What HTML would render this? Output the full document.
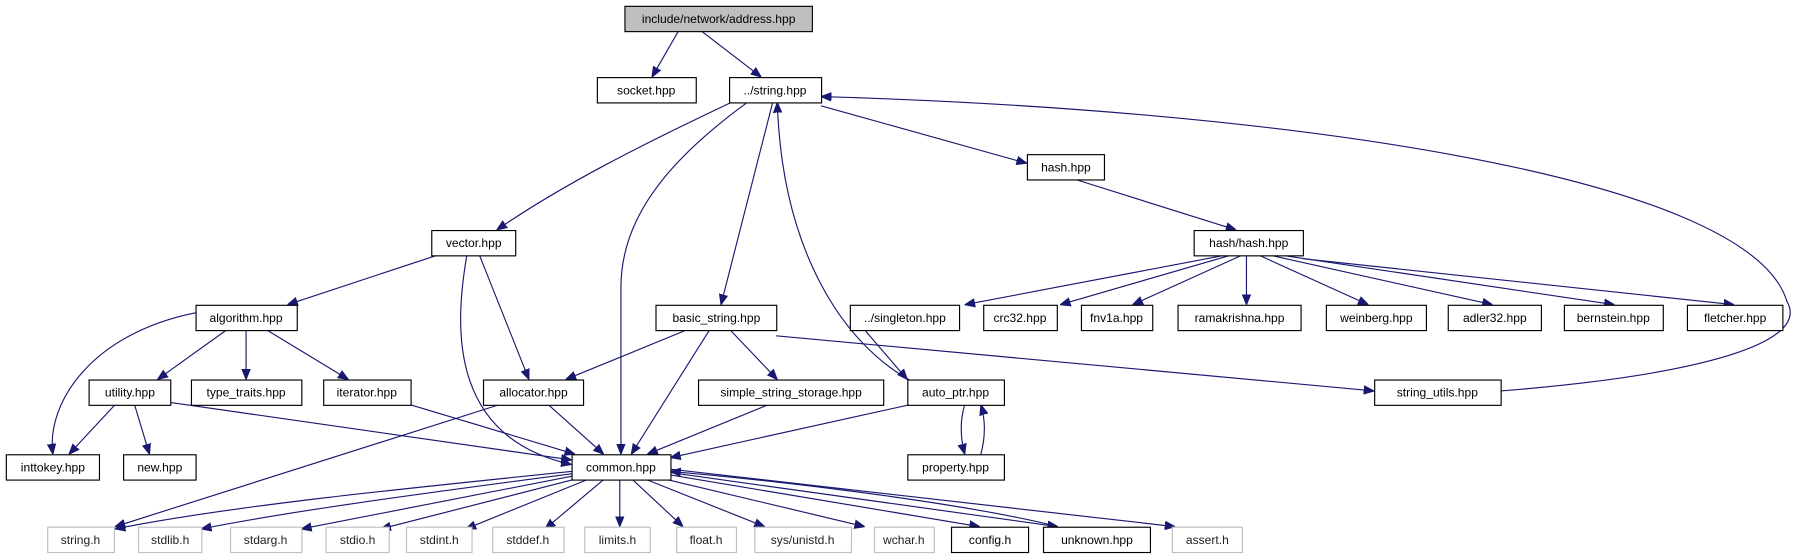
<!DOCTYPE html>
<html><head><meta charset="utf-8"><style>
html,body{margin:0;padding:0;background:#fff;}
svg{display:block}
text{font-family:"Liberation Sans",sans-serif;font-size:10.5px;text-anchor:middle;fill:#000}
.n rect{fill:#fff;stroke:#000;stroke-width:1}
.g rect{fill:#fff;stroke:#bfbfbf;stroke-width:1}
.g text{fill:#222}
path{fill:none;stroke:#191970;stroke-width:1}
</style></head><body>
<svg width="1803" height="560" viewBox="0 0 1568 487" preserveAspectRatio="none" xmlns="http://www.w3.org/2000/svg">
<defs><marker id="a" viewBox="0 0 10 10" refX="10" refY="5" markerWidth="9" markerHeight="9" markerUnits="userSpaceOnUse" orient="auto"><path d="M0,1 L10,5 L0,9 z" style="fill:#191970;stroke:#191970"/></marker></defs>
<g marker-end="url(#a)">
<path d="M590,27 L567,67"/>
<path d="M610,27 L662,67"/>
<path d="M636,89 C560,125 490,160 432,200"/>
<path d="M650,89 C580,140 540,190 540,250 L540,395"/>
<path d="M672,89 L627,265"/>
<path d="M792,331 C735,300 680,220 676,89"/>
<path d="M714,92 L893,142"/>
<path d="M1305,340 C1480,326 1575,298 1554,262 C1520,150 1100,95 714,84"/>
<path d="M935,156 L1075,200"/>
<path d="M1065,222 L839,265"/>
<path d="M1070,222 L922,265"/>
<path d="M1080,222 L985,265"/>
<path d="M1084,222 L1084,265"/>
<path d="M1095,222 L1190,265"/>
<path d="M1105,222 L1298,265"/>
<path d="M1115,222 L1404,265"/>
<path d="M1133,225 L1508,265"/>
<path d="M380,222 L250,265"/>
<path d="M417,222 L460,330"/>
<path d="M406,222 C396,280 388,380 497,404"/>
<path d="M170,272 C80,290 40,350 46,395"/>
<path d="M197,287 L137,330"/>
<path d="M214,287 L214,330"/>
<path d="M232,287 L303,330"/>
<path d="M597,287 L492,330"/>
<path d="M617,287 L549,395"/>
<path d="M635,287 L676,330"/>
<path d="M675,292 L1195,340"/>
<path d="M752,287 L789,330"/>
<path d="M100,352 L60,395"/>
<path d="M117,352 L130,395"/>
<path d="M148,350 L497,400"/>
<path d="M357,352 L500,395"/>
<path d="M477,352 L525,395"/>
<path d="M434,352 L100,458"/>
<path d="M668,352 L563,395"/>
<path d="M800,350 L583,398"/>
<path d="M839,352 C835,365 835,380 839,395"/>
<path d="M853,395 C857,380 857,365 853,352"/>
<path d="M497,410 C350,425 200,440 100,460"/>
<path d="M497,412 C360,430 250,445 175,460"/>
<path d="M498,414 L262,460"/>
<path d="M503,416 L331,460"/>
<path d="M511,417 L405,460"/>
<path d="M525,417 L474,460"/>
<path d="M539,417 L539,458"/>
<path d="M550,417 L594,458"/>
<path d="M562,417 L665,458"/>
<path d="M580,417 L752,458"/>
<path d="M583,413 L852,458"/>
<path d="M583,411 L920,458"/>
<path d="M920,458 C850,440 700,420 583,410"/>
<path d="M583,408 L1022,458"/>
</g>
<g class="n"><rect x="543.5" y="5.5" width="163" height="22" style="fill:#bfbfbf"/><text x="625" y="20">include/network/address.hpp</text></g>
<g class="n"><rect x="519.5" y="67.5" width="86" height="22"/><text x="562" y="82">socket.hpp</text></g>
<g class="n"><rect x="634.5" y="67.5" width="80" height="22"/><text x="674" y="82">../string.hpp</text></g>
<g class="n"><rect x="893.5" y="134.5" width="67" height="22"/><text x="927" y="149">hash.hpp</text></g>
<g class="n"><rect x="375.5" y="200.5" width="73" height="22"/><text x="412" y="215">vector.hpp</text></g>
<g class="n"><rect x="1038.5" y="200.5" width="95" height="22"/><text x="1086" y="215">hash/hash.hpp</text></g>
<g class="n"><rect x="170.5" y="265.5" width="88" height="22"/><text x="214" y="280">algorithm.hpp</text></g>
<g class="n"><rect x="570.5" y="265.5" width="105" height="22"/><text x="623" y="280">basic_string.hpp</text></g>
<g class="n"><rect x="739.5" y="265.5" width="95" height="22"/><text x="787" y="280">../singleton.hpp</text></g>
<g class="n"><rect x="855.5" y="265.5" width="64" height="22"/><text x="887" y="280">crc32.hpp</text></g>
<g class="n"><rect x="940.5" y="265.5" width="62" height="22"/><text x="971" y="280">fnv1a.hpp</text></g>
<g class="n"><rect x="1024.5" y="265.5" width="107" height="22"/><text x="1078" y="280">ramakrishna.hpp</text></g>
<g class="n"><rect x="1153.5" y="265.5" width="87" height="22"/><text x="1197" y="280">weinberg.hpp</text></g>
<g class="n"><rect x="1259.5" y="265.5" width="81" height="22"/><text x="1300" y="280">adler32.hpp</text></g>
<g class="n"><rect x="1360.5" y="265.5" width="86" height="22"/><text x="1403" y="280">bernstein.hpp</text></g>
<g class="n"><rect x="1467.5" y="265.5" width="83" height="22"/><text x="1509" y="280">fletcher.hpp</text></g>
<g class="n"><rect x="77.5" y="330.5" width="71" height="22"/><text x="113" y="345">utility.hpp</text></g>
<g class="n"><rect x="166.5" y="330.5" width="96" height="22"/><text x="214" y="345">type_traits.hpp</text></g>
<g class="n"><rect x="281.5" y="330.5" width="76" height="22"/><text x="319" y="345">iterator.hpp</text></g>
<g class="n"><rect x="420.5" y="330.5" width="87" height="22"/><text x="464" y="345">allocator.hpp</text></g>
<g class="n"><rect x="607.5" y="330.5" width="161" height="22"/><text x="688" y="345">simple_string_storage.hpp</text></g>
<g class="n"><rect x="789.5" y="330.5" width="84" height="22"/><text x="831" y="345">auto_ptr.hpp</text></g>
<g class="n"><rect x="1195.5" y="330.5" width="110" height="22"/><text x="1250" y="345">string_utils.hpp</text></g>
<g class="n"><rect x="5.5" y="395.5" width="81" height="22"/><text x="46" y="410">inttokey.hpp</text></g>
<g class="n"><rect x="107.5" y="395.5" width="63" height="22"/><text x="139" y="410">new.hpp</text></g>
<g class="n"><rect x="497.5" y="395.5" width="86" height="22"/><text x="540" y="410">common.hpp</text></g>
<g class="n"><rect x="789.5" y="395.5" width="84" height="22"/><text x="831" y="410">property.hpp</text></g>
<g class="g"><rect x="41.5" y="458.5" width="58" height="22"/><text x="70" y="473">string.h</text></g>
<g class="g"><rect x="120.5" y="458.5" width="55" height="22"/><text x="148" y="473">stdlib.h</text></g>
<g class="g"><rect x="200.5" y="458.5" width="62" height="22"/><text x="231" y="473">stdarg.h</text></g>
<g class="g"><rect x="283.5" y="458.5" width="55" height="22"/><text x="311" y="473">stdio.h</text></g>
<g class="g"><rect x="353.5" y="458.5" width="57" height="22"/><text x="382" y="473">stdint.h</text></g>
<g class="g"><rect x="428.5" y="458.5" width="62" height="22"/><text x="459" y="473">stddef.h</text></g>
<g class="g"><rect x="508.5" y="458.5" width="57" height="22"/><text x="537" y="473">limits.h</text></g>
<g class="g"><rect x="588.5" y="458.5" width="52" height="22"/><text x="614" y="473">float.h</text></g>
<g class="g"><rect x="656.5" y="458.5" width="84" height="22"/><text x="698" y="473">sys/unistd.h</text></g>
<g class="g"><rect x="760.5" y="458.5" width="52" height="22"/><text x="786" y="473">wchar.h</text></g>
<g class="n"><rect x="827.5" y="458.5" width="67" height="22"/><text x="861" y="473">config.h</text></g>
<g class="n"><rect x="907.5" y="458.5" width="93" height="22"/><text x="954" y="473">unknown.hpp</text></g>
<g class="g"><rect x="1019.5" y="458.5" width="61" height="22"/><text x="1050" y="473">assert.h</text></g>
</svg>
</body></html>
